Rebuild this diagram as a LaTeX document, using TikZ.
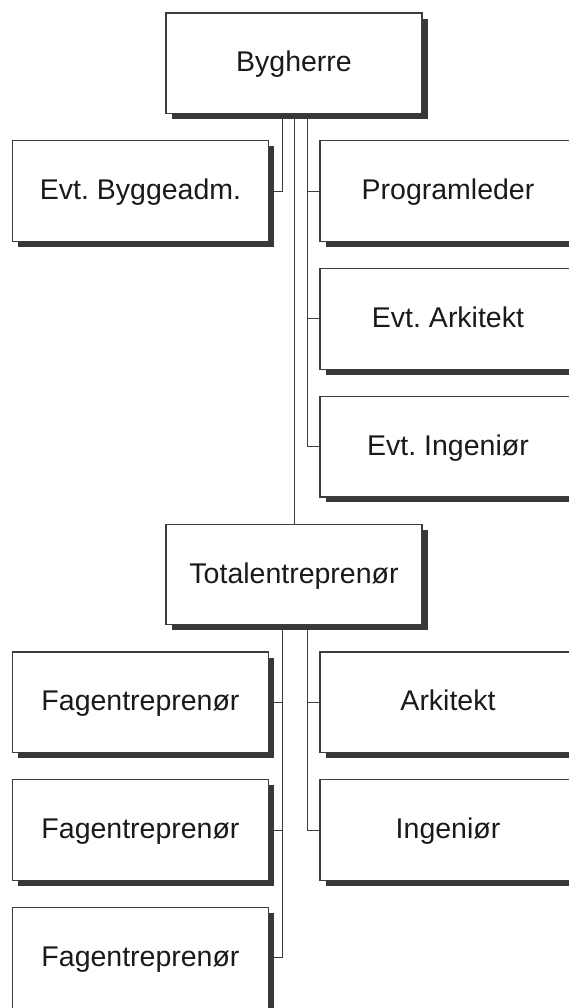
\documentclass[tikz,border=0pt]{standalone}
\usepackage{fontspec}
\setmainfont{Liberation Sans}
\usetikzlibrary{shadows,backgrounds}
\definecolor{rule}{HTML}{3C3C3C}
\definecolor{shade}{HTML}{383838}
\definecolor{ink}{HTML}{1A1A1A}
\frenchspacing
\tikzset{
  orgbox/.style={draw=rule, line width=1.2pt, fill=white,
    minimum width=256pt, minimum height=100.5pt, inner sep=0pt,
    text=ink, font=\fontsize{28.5}{34}\selectfont,
    text height=21pt, text depth=4pt,
    drop shadow={shadow xshift=5.5pt, shadow yshift=-5.5pt, fill=shade, opacity=1}},
  link/.style={draw=rule, line width=1pt}
}
\begin{document}
\begin{tikzpicture}[x=1pt,y=-1pt]
\useasboundingbox (0,0) rectangle (568,1008);

% owner and advisers
\node[orgbox] (byg) at (294,63.3)    {Bygherre};
\node[orgbox] (eb)  at (140.5,191.1) {Evt. Byggeadm.};
\node[orgbox] (pl)  at (448,191.1)   {Programleder};
\node[orgbox] (ea)  at (448,318.9)   {Evt. Arkitekt};
\node[orgbox] (ei)  at (448,446.7)   {Evt. Ingeniør};

% contractor and its parties
\node[orgbox] (tot) at (294,574.5)   {Totalentreprenør};
\node[orgbox] (f1)  at (140.5,702.3) {Fagentreprenør};
\node[orgbox] (ar)  at (448,702.3)   {Arkitekt};
\node[orgbox] (f2)  at (140.5,830.1) {Fagentreprenør};
\node[orgbox] (in)  at (448,830.1)   {Ingeniør};
\node[orgbox] (f3)  at (140.5,957.9) {Fagentreprenør};

\begin{scope}[on background layer]
  \coordinate (busL) at ([xshift=-12pt]byg.south);
  \coordinate (busR) at ([xshift=13pt]byg.south);
  \draw[link] (busL) |- (eb.east);
  \draw[link] (byg.south) -- (tot.north);
  \draw[link] (busR) |- (ei.west);
  \draw[link] (pl.west) -- (pl.west -| busR);
  \draw[link] (ea.west) -- (ea.west -| busR);

  \coordinate (lowL) at ([xshift=-12pt]tot.south);
  \coordinate (lowR) at ([xshift=13pt]tot.south);
  \draw[link] (lowL) |- (f3.east);
  \draw[link] (f1.east) -- (f1.east -| lowL);
  \draw[link] (f2.east) -- (f2.east -| lowL);
  \draw[link] (lowR) |- (in.west);
  \draw[link] (ar.west) -- (ar.west -| lowR);
\end{scope}
\end{tikzpicture}
\end{document}
